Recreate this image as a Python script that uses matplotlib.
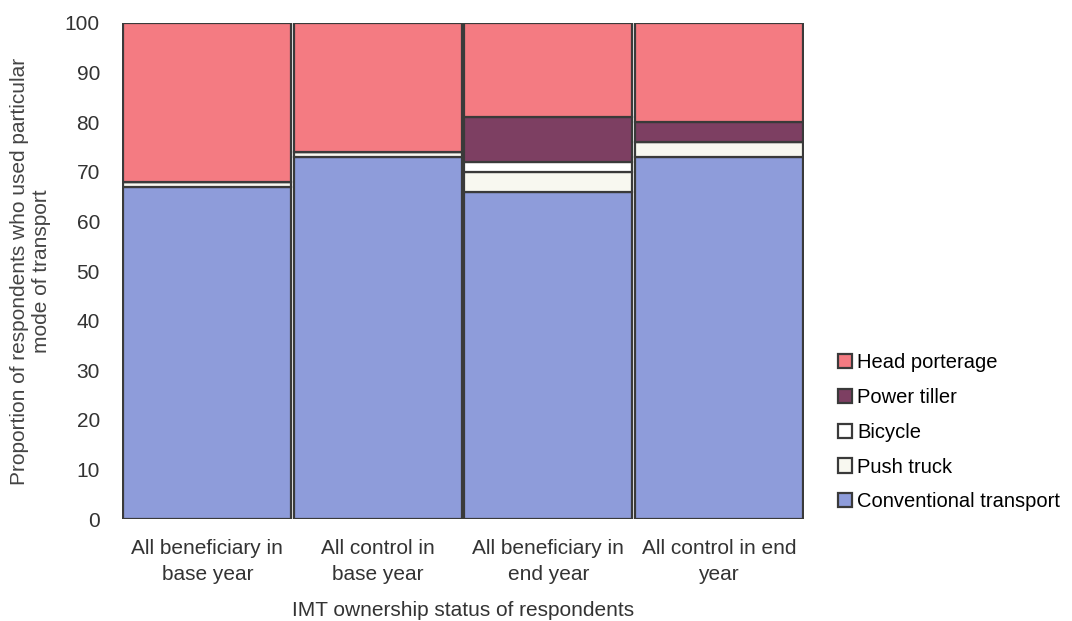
import matplotlib.pyplot as plt
import numpy as np

plt.rcParams['font.family'] = ['Liberation Sans', 'DejaVu Sans']

categories = ["All beneficiary in\nbase year", "All control in\nbase year",
              "All beneficiary in\nend year", "All control in end\nyear"]
conventional = [67, 73, 66, 73]
push_truck = [1, 1, 4, 3]
bicycle = [0, 0, 2, 0]
power_tiller = [0, 0, 9, 4]
head_porterage = [32, 26, 19, 20]

series = [
    ("Conventional transport", conventional, "#8e9cda"),
    ("Push truck", push_truck, "#f8f8f0"),
    ("Bicycle", bicycle, "#ffffff"),
    ("Power tiller", power_tiller, "#7d3f62"),
    ("Head porterage", head_porterage, "#f47b82"),
]

fig = plt.figure(figsize=(10.72, 6.21), dpi=100)
ax = fig.add_axes([0.114, 0.164, 0.636, 0.799])

x = np.arange(len(categories))
bottom = np.zeros(len(categories))
handles = []
for name, vals, col in series:
    b = ax.bar(x, vals, bottom=bottom, width=0.985, color=col,
               edgecolor="#3a3a3a", linewidth=1.6, label=name)
    handles.append(b)
    bottom += np.array(vals)

ax.set_xlim(-0.5, len(categories) - 0.5)
ax.set_ylim(0, 100)
ax.set_yticks(range(0, 101, 10))
ax.set_xticks(x)
ax.set_xticklabels(categories, fontsize=15, color="#222222", linespacing=1.5)
ax.tick_params(axis="both", length=0, labelsize=15, colors="#333333")
ax.tick_params(axis="y", pad=16)
ax.tick_params(axis="x", pad=14)
for s in ax.spines.values():
    s.set_visible(False)

ax.set_ylabel("Proportion of respondents who used particular\nmode of transport",
              fontsize=15, color="#444444", labelpad=10)
ax.set_xlabel("IMT ownership status of respondents", fontsize=15,
              color="#333333", labelpad=12)

leg = fig.legend(handles[::-1], [s[0] for s in series][::-1],
                 loc="upper left", bbox_to_anchor=(0.765, 0.46),
                 frameon=False, fontsize=14.5, handlelength=0.7,
                 handleheight=0.7, handletextpad=0.25, labelspacing=0.78)

fig.savefig("out.png", dpi=100)
